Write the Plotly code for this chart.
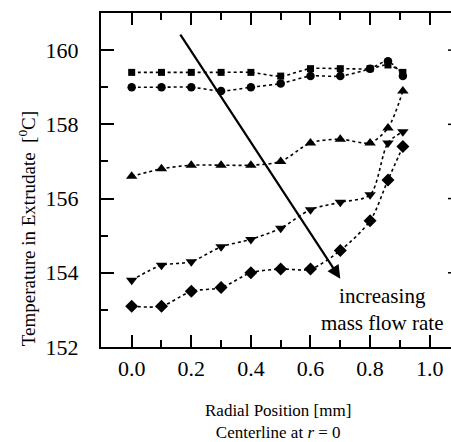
import plotly.graph_objects as go

# ---- data ----
radial_pos = [0.0, 0.1, 0.2, 0.3, 0.4, 0.5, 0.6, 0.7, 0.8, 0.86, 0.91]
temp_square = [159.4, 159.4, 159.4, 159.4, 159.4, 159.3, 159.5, 159.5, 159.5, 159.6, 159.4]
temp_circle = [159.0, 159.0, 159.0, 158.9, 159.0, 159.1, 159.3, 159.3, 159.5, 159.7, 159.3]
temp_tri_up = [156.6, 156.8, 156.9, 156.9, 156.9, 157.0, 157.5, 157.6, 157.5, 157.9, 158.9]
temp_tri_down = [153.8, 154.2, 154.3, 154.7, 154.9, 155.2, 155.7, 155.9, 156.1, 157.5, 157.8]
temp_diamond = [153.1, 153.1, 153.5, 153.6, 154.0, 154.1, 154.1, 154.6, 155.4, 156.5, 157.4]

arrow_start = (0.16, 160.46)
arrow_end = (0.70, 153.84)
note_pos = (0.84, 153.0)
note_text = "increasing<br>mass flow rate"

x_ticks = [0.0, 0.2, 0.4, 0.6, 0.8, 1.0]
x_ticktext = ["0.0", "0.2", "0.4", "0.6", "0.8", "1.0"]
y_ticks = [152, 154, 156, 158, 160]

FONT = "Liberation Serif"

series = [
    (temp_square, "square", 7),
    (temp_circle, "circle", 8.5),
    (temp_tri_up, "triangle-up", 10),
    (temp_tri_down, "triangle-down", 10),
    (temp_diamond, "diamond", 10),
]

fig = go.Figure()
for vals, sym, sz in series:
    fig.add_trace(go.Scatter(
        x=radial_pos, y=vals, mode="lines+markers",
        line=dict(color="black", width=1.6, dash="dot", shape="spline", smoothing=0.8),
        marker=dict(symbol=sym, size=sz, color="black"),
        showlegend=False,
    ))

fig.add_annotation(
    x=arrow_end[0], y=arrow_end[1], ax=arrow_start[0], ay=arrow_start[1],
    xref="x", yref="y", axref="x", ayref="y",
    showarrow=True, arrowhead=2, arrowsize=1.2, arrowwidth=2.2, arrowcolor="black", text="",
)
fig.add_annotation(
    x=note_pos[0], y=note_pos[1], xref="x", yref="y", text=note_text,
    xanchor="center", yanchor="middle",
    showarrow=False, font=dict(family=FONT, size=21, color="black"), align="center",
)
fig.add_annotation(
    x=0.506, y=-0.2227, xref="paper", yref="paper", xanchor="center", yanchor="middle",
    text="Radial Position [mm]<br>Centerline at <i>r</i> = 0",
    showarrow=False, font=dict(family=FONT, size=17, color="black"), align="center",
)
fig.add_annotation(
    x=-0.211, y=0.353, xref="paper", yref="paper", textangle=-90,
    xanchor="center", yanchor="middle",
    text="Temperature in Extrudate  [<sup>0</sup>C]",
    showarrow=False, font=dict(family=FONT, size=19, color="black"),
)

for yt in y_ticks[1:]:
    fig.add_shape(type="line", xref="paper", yref="y", x0=0.9914, x1=1.0, y0=yt, y1=yt,
                  line=dict(color="black", width=1.5))

fig.update_layout(
    width=451, height=442,
    margin=dict(l=101, r=0, t=13, b=95),
    paper_bgcolor="white", plot_bgcolor="white",
    font=dict(family=FONT, color="black"),
)
fig.update_xaxes(
    range=[-0.103, 1.0715], tickvals=x_ticks, ticktext=x_ticktext,
    ticks="inside", ticklen=12, tickwidth=1.5, tickcolor="black",
    minor=dict(dtick=0.1, tick0=0, ticks="inside", ticklen=7, tickwidth=1.5, tickcolor="black"),
    showline=True, linewidth=2, linecolor="black", mirror="ticks",
    showgrid=False, zeroline=False,
    tickfont=dict(family=FONT, size=22, color="black"), ticklabelstandoff=1,
)
fig.update_yaxes(
    range=[152, 161], tickvals=y_ticks,
    ticks="inside", ticklen=13, tickwidth=1.5, tickcolor="black",
    minor=dict(dtick=1, tick0=152, ticks="inside", ticklen=7, tickwidth=1.5, tickcolor="black"),
    showline=True, linewidth=2, linecolor="black", mirror=False,
    showgrid=False, zeroline=False,
    tickfont=dict(family=FONT, size=22, color="black"), ticklabelstandoff=16,
)

fig.write_html(
    "out.html",
    config={"displayModeBar": False},
    post_script="document.body.style.margin='0';document.body.style.overflow='hidden';",
)
